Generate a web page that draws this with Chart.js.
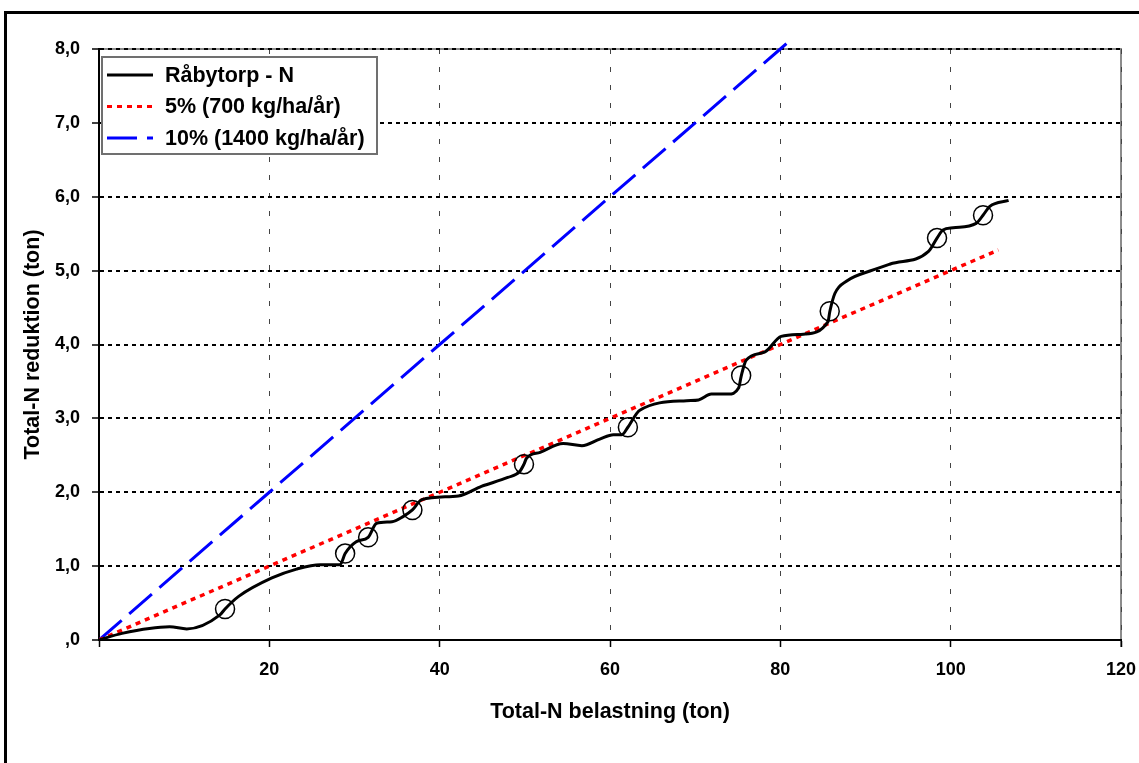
<!DOCTYPE html>
<html>
<head>
<meta charset="utf-8">
<script src="https://cdn.jsdelivr.net/npm/chart.js@4.4.1/dist/chart.umd.min.js"></script>
<style>
  html, body { margin: 0; padding: 0; background: #fff; }
</style>
</head>
<body>
<canvas id="chart" width="1139" height="763"></canvas>
<script>
/* Råbytorp - N */
const loadX = [0, 2.7, 8.3, 10.3, 14.2, 14.8, 16.4, 20.3, 23.2, 26.0, 28.3, 28.9, 30.2, 31.6, 32.6, 34.4, 35.7, 36.8,
  37.9, 42.2, 44.9, 48.0, 49.4, 49.9, 50.2, 51.8, 54.5, 56.7, 58.8, 60.4, 61.4, 62.1, 63.5, 69.0, 70.4, 71.9, 73.9,
  75.1, 75.4, 76.0, 78.2, 80.1, 82.7, 85.6, 85.8, 86.4, 87.8, 90.9, 92.9, 97.4, 98.4, 99.1, 100.3, 103.0, 103.8, 104.6, 106.8]
const reductionY = [0, 0.09, 0.18, 0.15, 0.34, 0.42, 0.59, 0.84, 0.96, 1.02, 1.02, 1.17, 1.33, 1.39, 1.58, 1.60, 1.67, 1.76,
  1.90, 1.95, 2.08, 2.20, 2.28, 2.38, 2.46, 2.54, 2.66, 2.63, 2.72, 2.78, 2.78, 2.88, 3.11, 3.24, 3.25, 3.33, 3.33,
  3.41, 3.57, 3.79, 3.90, 4.11, 4.14, 4.31, 4.44, 4.69, 4.86, 5.01, 5.09, 5.26, 5.44, 5.55, 5.58, 5.64, 5.75, 5.87, 5.95]

/* circled points on the black line */
const markX = [14.8, 28.9, 31.6, 36.8, 49.9, 62.1, 75.4, 85.8, 98.4, 103.8]
const markY = [0.42, 1.17, 1.39, 1.76, 2.38, 2.88, 3.58, 4.45, 5.44, 5.75]

/* 5% line */
const pct5X = [0, 20, 40, 60, 80, 100, 105.6]
const pct5Y = [0, 1.0, 2.0, 3.0, 4.0, 5.0, 5.28]

/* 10% line */
const pct10X = [0, 20, 40, 60, 80, 81.3]
const pct10Y = [0, 2.0, 4.0, 6.0, 8.0, 8.13]

const yTickLabels = [',0', '1,0', '2,0', '3,0', '4,0', '5,0', '6,0', '7,0', '8,0']
const seriesNames = ['Råbytorp - N', '5% (700 kg/ha/år)', '10% (1400 kg/ha/år)']

const FONT = '"Liberation Sans", Arial, sans-serif'

function toPoints(xs, ys) {
    return xs.map((x, i) => ({ x: x, y: ys[i] }))
}

/* white page, outer frame, gray top/right plot border */
const framePlugin = {
    id: 'framePlugin',
    beforeDraw(chart) {
        const ctx = chart.ctx
        const a = chart.chartArea
        ctx.save()
        ctx.fillStyle = '#fff'
        ctx.fillRect(0, 0, chart.width, chart.height)
        ctx.strokeStyle = '#000'
        ctx.lineWidth = 3
        ctx.strokeRect(5.5, 12.5, chart.width + 20, chart.height + 20)
        ctx.strokeStyle = '#8c8c8c'
        ctx.lineWidth = 2
        ctx.beginPath()
        ctx.moveTo(a.left, a.top)
        ctx.lineTo(a.right, a.top)
        ctx.lineTo(a.right, a.bottom + 7)
        ctx.stroke()
        ctx.restore()
    }
}

/* legend box inside the plot */
const legendBox = {
    id: 'legendBox',
    afterDraw(chart) {
        const ctx = chart.ctx
        const a = chart.chartArea
        const x = a.left + 3, y = a.top + 8, w = 275, h = 97
        ctx.save()
        ctx.fillStyle = '#fff'
        ctx.fillRect(x, y, w, h)
        ctx.strokeStyle = '#707070'
        ctx.lineWidth = 2
        ctx.strokeRect(x, y, w, h)
        const ds = chart.data.datasets
        ctx.font = 'bold 21.5px ' + FONT
        ctx.textBaseline = 'middle'
        seriesNames.forEach((name, i) => {
            const d = ds[i]
            const ry = y + 18 + i * 31.5
            ctx.strokeStyle = d.borderColor
            ctx.lineWidth = 3
            ctx.setLineDash(d.borderDash || [])
            ctx.beginPath()
            ctx.moveTo(x + 5, ry)
            ctx.lineTo(x + 51, ry)
            ctx.stroke()
            ctx.setLineDash([])
            ctx.fillStyle = '#000'
            ctx.fillText(name, x + 63, ry + 1)
        })
        ctx.restore()
    }
}

var chart = new Chart(document.getElementById('chart'), {
    type: 'scatter',
    data: {
        datasets: [{
            label: seriesNames[0],
            data: toPoints(loadX, reductionY),
            showLine: true,
            borderColor: '#000',
            borderWidth: 3,
            pointRadius: 0,
            cubicInterpolationMode: 'monotone',
            order: 1
        }, {
            label: seriesNames[1],
            data: toPoints(pct5X, pct5Y),
            showLine: true,
            borderColor: '#ff0000',
            borderWidth: 3.5,
            borderDash: [5, 5],
            pointRadius: 0,
            order: 2
        }, {
            label: seriesNames[2],
            data: toPoints(pct10X, pct10Y),
            showLine: true,
            borderColor: '#0000ff',
            borderWidth: 3,
            borderDash: [30, 10],
            pointRadius: 0,
            clip: { left: 0, top: 12, right: 0, bottom: 0 },
            order: 3
        }, {
            label: 'marks',
            data: toPoints(markX, markY),
            showLine: false,
            pointStyle: 'circle',
            pointRadius: 9.5,
            pointBorderWidth: 1.5,
            pointBorderColor: '#000',
            pointBackgroundColor: 'rgba(0,0,0,0)',
            order: 0
        }]
    },
    options: {
        responsive: false,
        animation: false,
        layout: { padding: { left: 0, top: 49, right: 18, bottom: 0 } },
        plugins: {
            legend: { display: false },
            tooltip: { enabled: false }
        },
        scales: {
            x: {
                type: 'linear',
                min: 0,
                max: 120,
                afterFit: function (scale) {
                    scale.height = 123
                    scale.paddingLeft = 0
                    scale.paddingRight = 0
                },
                ticks: {
                    stepSize: 20,
                    padding: 12,
                    color: '#000',
                    font: { family: FONT, size: 18, weight: 'bold' },
                    callback: v => v === 0 ? '' : v
                },
                grid: {
                    color: '#444',
                    lineWidth: 1,
                    tickColor: '#000',
                    tickLength: 7,
                    tickWidth: 1.5,
                    tickBorderDash: []
                },
                border: { color: '#000', width: 2, dash: [5, 13] },
                title: {
                    display: true,
                    text: 'Total-N belastning (ton)',
                    color: '#000',
                    font: { family: FONT, size: 21.5, weight: 'bold' },
                    padding: { top: 0, bottom: 38 }
                }
            },
            y: {
                min: 0,
                max: 8,
                afterFit: function (scale) {
                    scale.width = 99
                    scale.paddingTop = 0
                    scale.paddingBottom = 0
                },
                ticks: {
                    stepSize: 1,
                    padding: 12,
                    color: '#000',
                    font: { family: FONT, size: 18, weight: 'bold' },
                    callback: v => yTickLabels[v]
                },
                grid: {
                    color: '#000',
                    lineWidth: 2,
                    tickColor: '#000',
                    tickLength: 7,
                    tickWidth: 1.5,
                    tickBorderDash: []
                },
                border: { color: '#000', width: 2, dash: [4, 4] },
                title: {
                    display: true,
                    text: 'Total-N reduktion (ton)',
                    color: '#000',
                    font: { family: FONT, size: 21.5, weight: 'bold' },
                    padding: { top: 20, bottom: 0 }
                }
            }
        }
    },
    plugins: [framePlugin, legendBox]
});
</script>
</body>
</html>
